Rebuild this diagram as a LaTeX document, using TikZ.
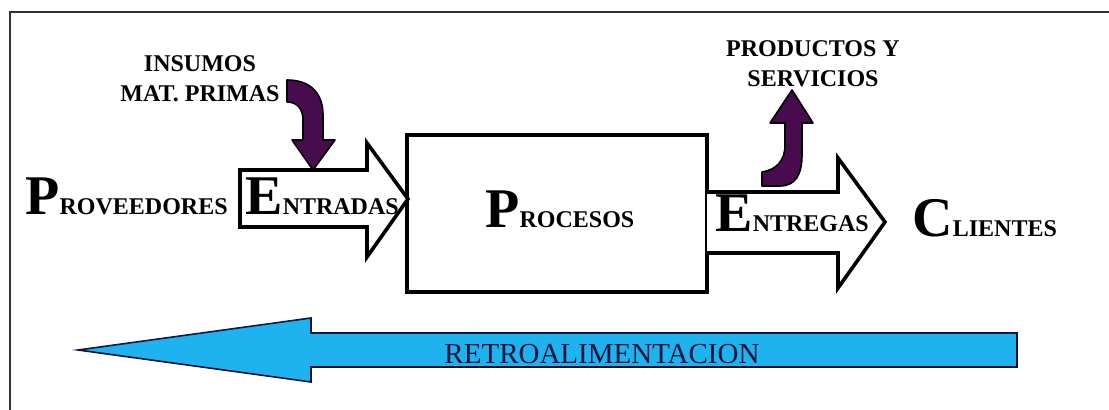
\documentclass[tikz,border=0pt]{standalone}
\usepackage{fontspec}
\setmainfont{Liberation Serif}
\usepackage{xcolor}
\usepackage{tikz}
\usetikzlibrary{arrows.meta,calc}

\definecolor{morado}{RGB}{72,12,78}
\definecolor{celeste}{RGB}{30,178,238}
\definecolor{azuloscuro}{RGB}{10,20,60}

\newcommand{\inicial}[2]{{\fontsize{28}{30}\selectfont #1}{\fontsize{12}{14}\selectfont #2}}

\tikzset{
  etiqueta/.style={font=\bfseries, inner sep=0pt, anchor=base west},
  rotulo/.style={font=\bfseries\fontsize{12}{15}\selectfont, align=center, inner sep=0pt},
  flechablanca/.style={draw=black, line width=1.8pt, fill=white, line join=miter},
  flechamorada/.style={draw=black, line width=0.8pt, fill=morado, line join=round}
}

\begin{document}
\begin{tikzpicture}[x=0.5pt,y=-0.5pt]
  \useasboundingbox (0,0) rectangle (1109,410);
  % marco
  \draw[line width=1pt, black!80] (10,410) -- (10,12) -- (1109,12);
  % caja central
  \draw[line width=2.2pt] (407,135) rectangle (707,292);
  % flecha de entrada
  \draw[flechablanca] (240,170) -- (367,170) -- (367,143) -- (408,199)
    -- (367,257) -- (367,227) -- (240,227) -- cycle;
  % flecha de entrega
  \draw[flechablanca] (707,192) -- (838,192) -- (838,158) -- (885,222)
    -- (838,288) -- (838,253) -- (707,253);
  % insumos: curva hacia abajo
  \draw[flechamorada] (287,80) .. controls (312,80) and (323,95) .. (323,115)
    -- (323,140) -- (335,140) -- (313,170) -- (292,140) -- (303,140)
    -- (303,120) .. controls (303,110) and (298,102) .. (287,102) -- cycle;
  % productos: curva hacia arriba
  \draw[flechamorada] (785,123) -- (770,123) -- (792,90) -- (813,123) -- (802,123)
    -- (802,155) .. controls (802,175) and (795,186) .. (780,186) -- (762,186)
    -- (762,172) .. controls (775,170) and (785,162) .. (785,145) -- cycle;
  % retroalimentacion
  \draw[draw=azuloscuro, line width=0.8pt, fill=celeste] (1017,333) -- (311,333)
    -- (311,318) -- (78,350) -- (311,382) -- (311,367) -- (1017,367) -- cycle;
  \node[inner sep=0pt, anchor=base, text=azuloscuro, font=\fontsize{14.5}{16}\selectfont]
    (retro) at (602,364) {RETROALIMENTACION};
  % textos
  \node[etiqueta] (prov) at (25,215) {\inicial{P}{ROVEEDORES}};
  \node[etiqueta] (entr) at (245,215) {\inicial{E}{NTRADAS}};
  \node[etiqueta] (proc) at (485,228) {\inicial{P}{ROCESOS}};
  \node[etiqueta] (entg) at (715,232) {\inicial{E}{NTREGAS}};
  \node[etiqueta] (cli) at (912,237) {\inicial{C}{LIENTES}};
  \node[rotulo, anchor=base] (ins) at (200,102) {INSUMOS\\MAT. PRIMAS};
  \node[rotulo, anchor=base] (prod) at (813,87) {PRODUCTOS Y\\SERVICIOS};
\end{tikzpicture}
\end{document}
